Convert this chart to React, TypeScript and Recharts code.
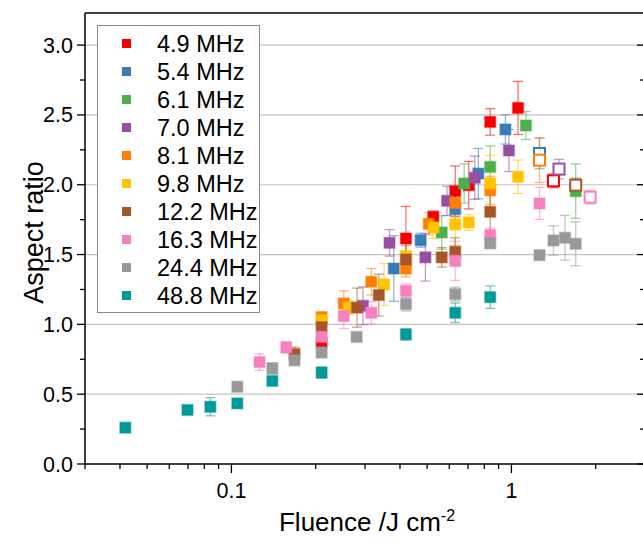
import { ScatterChart, Scatter, XAxis, YAxis, ErrorBar, ReferenceLine } from "recharts";

const FONT = '"Liberation Sans", Arial, sans-serif';

// fluence (J/cm2), aspect ratio, error, per repetition rate
const f49 = [0.21, 0.42, 0.526, 0.63, 0.704, 0.84, 1.056, 1.413];
const r49 = [0.87, 1.615, 1.77, 1.954, 1.997, 2.45, 2.55, 2.028];
const e49 = [0.03, 0.23, 0.04, 0.18, 0.17, 0.095, 0.19, 0.05];

const f54 = [0.38, 0.474, 0.63, 0.762, 0.952, 1.26];
const r54 = [1.4, 1.603, 1.825, 2.08, 2.396, 2.224];
const e54 = [0.235, 0.05, 0.1, 0.18, 0.105, 0.11];

const f61 = [0.564, 0.678, 0.84, 1.127, 1.697];
const r61 = [1.658, 2.009, 2.128, 2.424, 1.954];
const e61 = [0.12, 0.14, 0.15, 0.1, 0.195];

const f70 = [0.295, 0.367, 0.493, 0.589, 0.74, 0.98, 1.479];
const r70 = [1.133, 1.584, 1.48, 1.885, 2.05, 2.245, 2.112];
const e70 = [0.135, 0.095, 0.17, 0.105, 0.155, 0.15, 0.07];

const f81 = [0.21, 0.252, 0.316, 0.42, 0.507, 0.63, 0.84, 1.26];
const r81 = [1.05, 1.15, 1.305, 1.4, 1.72, 1.87, 1.96, 2.176];
const e81 = [0.04, 0.09, 0.095, 0.06, 0.08, 0.1, 0.1, 0.16];

const f98 = [0.21, 0.263, 0.351, 0.42, 0.527, 0.63, 0.704, 0.84, 1.056];
const r98 = [1.03, 1.12, 1.286, 1.49, 1.694, 1.716, 1.73, 2.01, 2.057];
const e98 = [0.04, 0.05, 0.15, 0.1, 0.08, 0.15, 0.056, 0.2, 0.12];

const f122 = [0.168, 0.21, 0.281, 0.336, 0.42, 0.564, 0.63, 0.84, 1.697];
const r122 = [0.787, 0.98, 1.12, 1.21, 1.465, 1.48, 1.52, 1.806, 1.997];
const e122 = [0.05, 0.05, 0.14, 0.15, 0.1, 0.07, 0.1, 0.15, 0.05];

const f163 = [0.126, 0.157, 0.21, 0.252, 0.316, 0.42, 0.63, 0.84, 1.26, 1.91];
const r163 = [0.73, 0.835, 0.91, 1.06, 1.083, 1.24, 1.455, 1.64, 1.866, 1.911];
const e163 = [0.06, 0.04, 0.05, 0.09, 0.08, 0.05, 0.14, 0.05, 0.115, 0.05];

const f244 = [0.105, 0.14, 0.168, 0.21, 0.28, 0.42, 0.63, 0.84, 1.26, 1.413, 1.554, 1.697];
const r244 = [0.553, 0.685, 0.744, 0.8, 0.91, 1.145, 1.217, 1.58, 1.496, 1.601, 1.62, 1.577];
const e244 = [0.03, 0.04, 0.04, 0.04, 0.02, 0.05, 0.05, 0.03, 0.01, 0.105, 0.16, 0.157];

const f488 = [0.0418, 0.0697, 0.0841, 0.105, 0.14, 0.21, 0.42, 0.63, 0.84];
const r488 = [0.26, 0.387, 0.41, 0.434, 0.595, 0.655, 0.928, 1.083, 1.195];
const e488 = [0, 0, 0.065, 0, 0, 0.04, 0.04, 0.07, 0.08];

// series whose last point is drawn as an open square
const openLast = ["4.9 MHz", "5.4 MHz", "7.0 MHz", "8.1 MHz", "12.2 MHz", "16.3 MHz"];

const xTicks = [0.03, 0.04, 0.05, 0.06, 0.07, 0.08, 0.09, 0.1, 0.2, 0.3, 0.4, 0.5, 0.6, 0.7, 0.8, 0.9, 1, 2, 3];
const xMajor = [0.1, 1];
const yTicks = [0, 0.25, 0.5, 0.75, 1, 1.25, 1.5, 1.75, 2, 2.25, 2.5, 2.75, 3];
const gridY = [0.5, 1, 1.5, 2, 2.5, 3];

const build = (label: string, f: number[], r: number[], e: number[]) =>
  f.map((x, i) => ({
    x,
    y: r[i],
    err: e[i],
    open: openLast.includes(label) && i === f.length - 1,
  }));

const series = [
  { name: "4.9 MHz", color: "#f50000", data: build("4.9 MHz", f49, r49, e49) },
  { name: "5.4 MHz", color: "#377eb8", data: build("5.4 MHz", f54, r54, e54) },
  { name: "6.1 MHz", color: "#4daf4a", data: build("6.1 MHz", f61, r61, e61) },
  { name: "7.0 MHz", color: "#984ea3", data: build("7.0 MHz", f70, r70, e70) },
  { name: "8.1 MHz", color: "#ff7f00", data: build("8.1 MHz", f81, r81, e81) },
  { name: "9.8 MHz", color: "#ffc300", data: build("9.8 MHz", f98, r98, e98) },
  { name: "12.2 MHz", color: "#a65628", data: build("12.2 MHz", f122, r122, e122) },
  { name: "16.3 MHz", color: "#f781bf", data: build("16.3 MHz", f163, r163, e163) },
  { name: "24.4 MHz", color: "#999999", data: build("24.4 MHz", f244, r244, e244) },
  { name: "48.8 MHz", color: "#009a9a", data: build("48.8 MHz", f488, r488, e488) },
];

const squareShape = (color: string) => (p: any) => {
  const { cx, cy, payload } = p;
  if (cx == null || cy == null) return <g />;
  if (payload?.open) {
    return <rect x={cx - 5.5} y={cy - 5.5} width={11} height={11} fill="#fff" stroke={color} strokeWidth={2} />;
  }
  return (
    <rect x={cx - 5.5} y={cy - 5.5} width={11} height={11} fill={color} stroke={color} strokeOpacity={0.35} strokeWidth={1.6} />
  );
};

function BottomTick({ x, y, payload }: any) {
  const major = xMajor.includes(payload.value);
  return (
    <g>
      <line x1={x} x2={x} y1={y} y2={y + (major ? 9 : 5)} stroke="#000" strokeWidth={1.3} />
      {major && (
        <text x={x} y={y + 34} textAnchor="middle" fontSize={21.5} fontFamily={FONT} fill="#000">
          {payload.value}
        </text>
      )}
    </g>
  );
}

function TopTick({ x, y, payload }: any) {
  const major = xMajor.includes(payload.value);
  return <line x1={x} x2={x} y1={y} y2={y + (major ? 9 : 5)} stroke="#000" strokeWidth={1.3} />;
}

function LeftTick({ x, y, payload }: any) {
  const major = Math.abs(payload.value * 2 - Math.round(payload.value * 2)) < 1e-6;
  return (
    <g>
      <line x1={x - (major ? 8 : 5)} x2={x} y1={y} y2={y} stroke="#000" strokeWidth={1.3} />
      {major && (
        <text x={x - 12} y={y + 7.5} textAnchor="end" fontSize={21.5} fontFamily={FONT} fill="#000">
          {payload.value.toFixed(1)}
        </text>
      )}
    </g>
  );
}

function RightTick({ x, y, payload }: any) {
  const major = Math.abs(payload.value * 2 - Math.round(payload.value * 2)) < 1e-6;
  return <line x1={x - (major ? 8 : 5)} x2={x} y1={y} y2={y} stroke="#000" strokeWidth={1.3} />;
}

const XTitle = (props: any) => {
  const vb = props.viewBox || { x: 85, y: 464, width: 560, height: 79 };
  return (
    <text x={vb.x + vb.width / 2 + 2} y={vb.y + 67} textAnchor="middle" fontSize={26} fontFamily={FONT} fill="#000">
      <tspan>Fluence /J cm</tspan>
      <tspan dy={-10} fontSize={16}>-2</tspan>
    </text>
  );
};

const YTitle = (props: any) => {
  const vb = props.viewBox || { x: 0, y: 13, width: 85, height: 451 };
  const cx = 43;
  const cy = vb.y + vb.height / 2 - 6;
  return (
    <text x={cx} y={cy} transform={`rotate(-90 ${cx} ${cy})`} textAnchor="middle" fontSize={27} fontFamily={FONT} fill="#000">
      Aspect ratio
    </text>
  );
};

function LegendBox() {
  return (
    <div
      style={{
        position: "absolute",
        left: 97,
        top: 25,
        width: 163,
        height: 288,
        border: "1px solid #8a8a8a",
        background: "#fff",
        fontFamily: FONT,
        fontSize: 23.5,
        boxSizing: "border-box",
      }}
    >
      {series.map((s, i) => (
        <div key={s.name} style={{ position: "absolute", left: 0, top: 4 + 28 * i, height: 28, width: "100%" }}>
          <div style={{ position: "absolute", left: 24, top: 9, width: 9, height: 9, background: s.color }} />
          <div style={{ position: "absolute", left: 59, top: 0, lineHeight: "28px", whiteSpace: "nowrap" }}>{s.name}</div>
        </div>
      ))}
    </div>
  );
}

export default function App() {
  const axisLine = { stroke: "#000", strokeWidth: 1.5 };
  return (
    <div style={{ position: "absolute", left: 0, top: 0, width: 643, height: 543, overflow: "hidden", background: "#fff" }}>
      <ScatterChart width={650} height={543} margin={{ top: 12, right: 0, bottom: 0, left: 0 }}>
        <XAxis
          dataKey="x"
          type="number"
          scale="log"
          domain={[0.03, 3]}
          allowDataOverflow
          ticks={xTicks}
          interval={0}
          tickSize={0}
          tickMargin={0}
          tickLine={false}
          tick={<BottomTick />}
          axisLine={axisLine}
          height={79}
          label={<XTitle />}
        />
        <XAxis
          xAxisId="top"
          orientation="top"
          type="number"
          scale="log"
          domain={[0.03, 3]}
          allowDataOverflow
          ticks={xTicks}
          interval={0}
          tickSize={0}
          tickMargin={0}
          tickLine={false}
          tick={<TopTick />}
          axisLine={axisLine}
          height={1}
        />
        <YAxis
          dataKey="y"
          type="number"
          domain={[0, 3.23]}
          allowDataOverflow
          ticks={yTicks}
          interval={0}
          tickSize={0}
          tickMargin={0}
          tickLine={false}
          tick={<LeftTick />}
          axisLine={axisLine}
          width={85}
          label={<YTitle />}
        />
        <YAxis
          yAxisId="right"
          orientation="right"
          type="number"
          domain={[0, 3.23]}
          allowDataOverflow
          ticks={yTicks}
          interval={0}
          tickSize={0}
          tickMargin={0}
          tickLine={false}
          tick={<RightTick />}
          axisLine={axisLine}
          width={5}
        />
        {gridY.map((v) => (
          <ReferenceLine key={v} y={v} stroke="#c4c4c4" strokeWidth={1.2} />
        ))}
        {series.map((s) => (
          <Scatter key={s.name} name={s.name} data={s.data} shape={squareShape(s.color)} isAnimationActive={false}>
            <ErrorBar dataKey="err" direction="y" width={5} stroke={s.color} strokeOpacity={0.55} strokeWidth={1.3} />
          </Scatter>
        ))}
      </ScatterChart>
      <LegendBox />
    </div>
  );
}
